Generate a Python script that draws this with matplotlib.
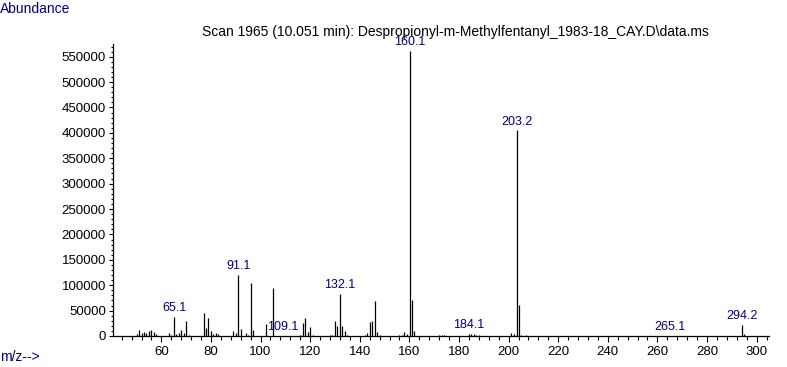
import numpy as np
import matplotlib
matplotlib.use("Agg")
import matplotlib.pyplot as plt
from matplotlib.ticker import MultipleLocator

plt.rcParams["font.family"] = ["Liberation Sans", "DejaVu Sans"]

NAVY = "#000080"

# mass spectrum peaks (m/z, abundance)
mz = [50, 51, 52, 53, 54, 55, 56, 57, 58,
      63, 64, 65.1, 66, 67, 68, 69, 70, 71,
      77, 78, 79, 80, 81, 82, 83,
      89, 90, 91.1, 92, 94, 95, 96, 97,
      102, 105, 109.1,
      116, 117, 118, 119, 120, 121,
      128, 129, 130, 131, 132.1, 133, 134, 135,
      142, 143, 144, 145, 146, 147, 148,
      156, 157, 158, 159, 160.1, 161, 162,
      172, 173, 174,
      184.1, 185, 186, 187, 188,
      201, 202, 203.2, 204, 205, 207,
      265.1, 294.2, 295]
abundance = [4000, 12000, 5000, 8000, 6500, 10500, 12000, 8500, 4000,
             6000, 2500, 37000, 4000, 5500, 12000, 6000, 30500, 2500,
             46000, 16400, 36000, 10000, 3500, 6000, 3500,
             10500, 6500, 120000, 14500, 6000, 2500, 105000, 12500,
             23700, 95000, 800,
             2000, 26000, 35500, 8500, 17700, 2000,
             2000, 2000, 29500, 19700, 82800, 19700, 10000, 2500,
             2000, 6500, 27600, 29500, 68500, 8500, 2000,
             2000, 2000, 8000, 4500, 562000, 70000, 10500,
             1500, 1200, 1200,
             4000, 3500, 4500, 2500, 1200,
             6500, 4000, 405000, 61000, 2500, 1500,
             500, 21700, 3300]
labelled = [65.1, 91.1, 109.1, 132.1, 160.1, 184.1, 203.2, 265.1, 294.2]

title = "Scan 1965 (10.051 min): Despropionyl-m-Methylfentanyl_1983-18_CAY.D\\data.ms"

fig = plt.figure(figsize=(7.87, 3.67), dpi=100)
ax = fig.add_axes([113 / 787, 31 / 367, 656 / 787, 292 / 367])

ax.vlines(mz, 0, abundance, color="black", linewidth=0.9)

for m, a in zip(mz, abundance):
    if m in labelled:
        ax.annotate(f"{m:.1f}", xy=(m, a), xytext=(0, 2), textcoords="offset points",
                    ha="center", va="bottom", fontsize=9, color=NAVY)

ax.set_xlim(40.5, 305)
ax.set_ylim(0, 575000)
ax.xaxis.set_major_locator(MultipleLocator(20))
ax.xaxis.set_minor_locator(MultipleLocator(4))
ax.yaxis.set_major_locator(MultipleLocator(50000))
ax.yaxis.set_minor_locator(MultipleLocator(10000))
ax.set_xticks(np.arange(60, 301, 20))

for s in ["top", "right"]:
    ax.spines[s].set_visible(False)
for s in ["left", "bottom"]:
    ax.spines[s].set_linewidth(0.9)

ax.tick_params(axis="x", which="major", length=4, width=0.8, labelsize=9.5, pad=3)
ax.tick_params(axis="x", which="minor", length=3, width=0.8)
ax.tick_params(axis="y", which="major", length=3, width=0.8, labelsize=9.5, pad=2)
ax.tick_params(axis="y", which="minor", length=1.5, width=0.8)

fig.text(0, 1 - 9 / 367, "Abundance", ha="left", va="center", fontsize=10, color=NAVY)
fig.text(0, 1 - 357 / 367, "m/z-->", ha="left", va="center", fontsize=10, color=NAVY)
fig.text(455 / 787, 1 - 32 / 367, title, ha="center", va="center", fontsize=10, color="black")

fig.savefig("out.png", dpi=100)
